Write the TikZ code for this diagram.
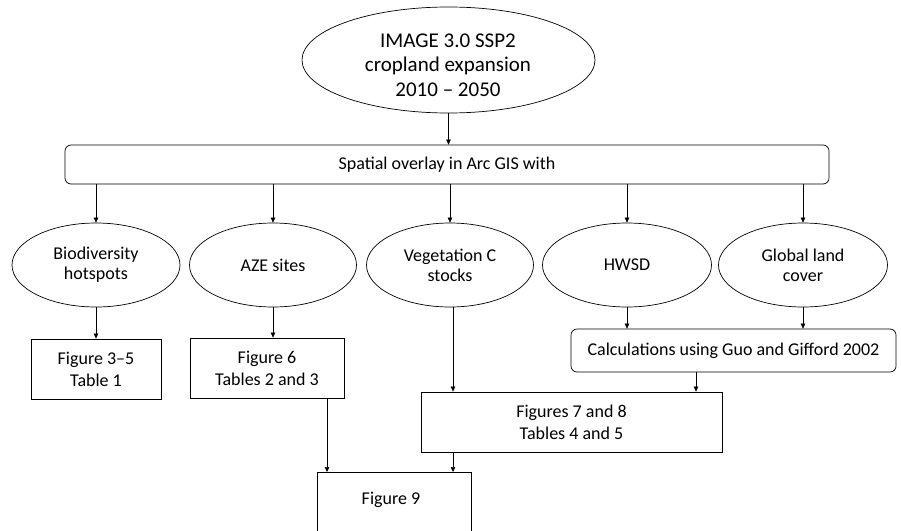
\documentclass[tikz,border=0pt]{standalone}
\usepackage{fontspec}
\setmainfont{Carlito}
\usetikzlibrary{arrows.meta,shapes.geometric,calc}
\begin{document}
\begin{tikzpicture}[x=1pt,y=-1pt,
  every node/.style={font=\fontsize{18}{22}\selectfont,align=center,inner sep=0pt},
  ell/.style={draw,ellipse,line width=0.7pt,font=\fontsize{18}{20}\selectfont},
  box/.style={draw,rectangle,line width=0.8pt},
  rbox/.style={draw,rectangle,rounded corners=6pt,line width=0.7pt},
  arr/.style={draw,line width=0.6pt,-{Triangle[length=5pt,width=4.5pt]}}]
\useasboundingbox (0,0) rectangle (901,530);
\clip (0,0) rectangle (901,530);
\node[ell,minimum width=293,minimum height=106] (top) at (448.5,60) {};
\node[font=\fontsize{21}{24.5}\selectfont] (toptext) at (448,65) {IMAGE 3.0 SSP2\\cropland expansion\\2010 -- 2050};
\node[rbox,minimum width=764,minimum height=39] (ov) at (447,164.5) {Spatial overlay in Arc GIS with};
\node[ell,minimum width=168,minimum height=84] (bio) at (96,265) {Biodiversity\\hotspots};
\node[ell,minimum width=167,minimum height=84] (aze) at (273,265) {AZE sites};
\node[ell,minimum width=167,minimum height=84] (veg) at (450,265) {Vegetation C\\stocks};
\node[ell,minimum width=169,minimum height=84] (hwsd) at (627,265) {HWSD};
\node[ell,minimum width=169,minimum height=84] (glc) at (803,265) {Global land\\cover};
\node[box,minimum width=130,minimum height=60] (f35) at (96,369) {Figure 3--5\\Table 1};
\node[box,minimum width=154,minimum height=60] (f6) at (267,368) {Figure 6\\Tables 2 and 3};
\node[rbox,minimum width=325,minimum height=43] (calc) at (733.5,350.5) {Calculations using Guo and Gifford 2002};
\node[box,minimum width=301,minimum height=60] (f78) at (571.5,422) {Figures 7 and 8\\Tables 4 and 5};
\node[box,minimum width=154,minimum height=90,anchor=north] (f9) at (394,472) {};
\node at (391,499.5) {Figure 9};
\draw[arr] (top.south) -- (top.south |- ov.north);
\foreach \n in {bio,aze,veg,hwsd,glc}{
  \draw[arr] (ov.south -| \n.north) -- (\n.north);
}
\draw[arr] (bio.south) -- (bio.south |- f35.north);
\draw[arr] (aze.south) -- (aze.south |- f6.north);
\draw[arr] ([xshift=3]veg.south) -- ([xshift=3]veg.south |- f78.north);
\draw[arr] (hwsd.south) -- (hwsd.south |- calc.north);
\draw[arr] (glc.south) -- (glc.south |- calc.north);
\draw[arr] ([xshift=-37.5]calc.south) -- ([xshift=-37.5]calc.south |- f78.north);
\draw[arr] ([xshift=60]f6.south) -- ([xshift=60]f6.south |- f9.north);
\draw[arr] ([xshift=3]veg.south |- f78.south) -- ([xshift=3]veg.south |- f9.north);
\end{tikzpicture}
\end{document}
